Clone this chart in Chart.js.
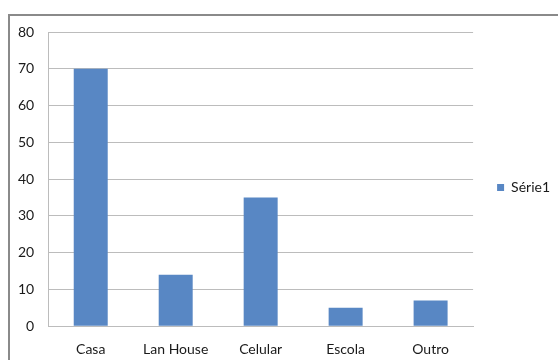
<!DOCTYPE html>
<html>
<head>
<meta charset="utf-8">
<script src="https://cdn.jsdelivr.net/npm/chart.js@4/dist/chart.umd.min.js"></script>
<style>
  html, body { margin: 0; padding: 0; background: #fff; }
  #wrap { position: relative; width: 558px; height: 360px; overflow: hidden; }
  #frame { position: absolute; left: 8px; top: 14px; width: 600px; height: 400px;
           border: 2px solid #8a8a8a; box-sizing: border-box; }
  canvas { position: absolute; left: 0; top: 0; }
</style>
</head>
<body>
<div id="wrap">
  <div id="frame"></div>
  <canvas id="c" width="558" height="360"></canvas>
</div>
<script>
// Where people access the internet
const categories = ['Casa', 'Lan House', 'Celular', 'Escola', 'Outro'];
const serie1 = [70, 14, 35, 5, 7];
const seriesName = 'Série1';

const FONT = 'Lato, Calibri, "Liberation Sans", sans-serif';
const TEXT = '#1a1a1a';
const GRID = '#bcbcbc';

// Lift the right-hand legend so it sits at the middle of the frame
const legendNudge = {
  id: 'legendNudge',
  afterLayout(chart, args, opts) {
    const lg = chart.legend;
    if (lg) { lg.top += opts.dy; lg.bottom += opts.dy; }
  }
};

new Chart(document.getElementById('c'), {
  type: 'bar',
  data: {
    labels: categories,
    datasets: [{
      label: seriesName,
      data: serie1,
      backgroundColor: '#5887c4',
      borderWidth: 0,
      barPercentage: 0.4,
      categoryPercentage: 1.0
    }]
  },
  options: {
    responsive: false,
    animation: false,
    layout: { padding: { left: 4, top: 32, right: -2, bottom: -13 } },
    plugins: {
      legendNudge: { dy: -15 },
      legend: {
        position: 'right',
        align: 'center',
        labels: {
          boxWidth: 7, boxHeight: 7, padding: 24,
          color: TEXT,
          font: { family: FONT, size: 14 }
        }
      },
      tooltip: { enabled: false }
    },
    scales: {
      x: {
        grid: { display: false, drawTicks: false },
        border: { display: true, color: GRID, width: 1 },
        ticks: { color: TEXT, font: { family: FONT, size: 14 }, padding: 15, maxRotation: 0 }
      },
      y: {
        min: 0, max: 80,
        ticks: { stepSize: 10, color: TEXT, font: { family: FONT, size: 14 }, padding: 14 },
        grid: { color: GRID, drawTicks: false },
        border: { display: true, color: GRID, width: 1 }
      }
    }
  },
  plugins: [legendNudge]
});
</script>
</body>
</html>
